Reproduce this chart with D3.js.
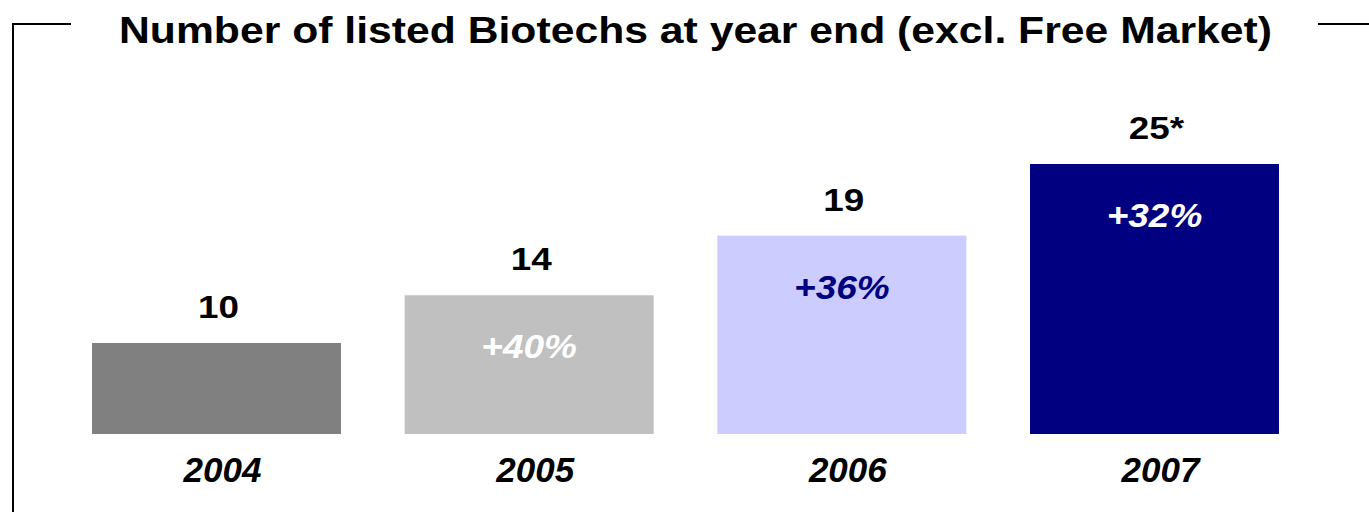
<!DOCTYPE html>
<html><head><meta charset="utf-8">
<script src="https://cdn.jsdelivr.net/npm/d3@7"></script>
<style>
html,body{margin:0;padding:0;background:#fff;}
svg{display:block;}
text{font-family:"Liberation Sans",Arial,sans-serif;font-weight:bold;}
</style></head>
<body>
<svg id="chart" width="1369" height="512"></svg>
<script>
const title = "Number of listed Biotechs at year end (excl. Free Market)";
const years = ["2004", "2005", "2006", "2007"];
const values = [10, 14, 19, 25];
const valueLabels = ["10", "14", "19", "25*"];
const growthLabels = [null, "+40%", "+36%", "+32%"];
const barColors = ["#808080", "#C0C0C0", "#CCCCFF", "#000080"];
const growthColors = [null, "#FFFFFF", "#000080", "#FFFFFF"];

const svg = d3.select("#chart");
const W = 1369, H = 512;
const baseline = 434;

const x = d3.scaleBand().domain(years).range([92, 1279]).paddingInner(0.2036).paddingOuter(0);
const y = d3.scaleLinear().domain([2.37, 25]).range([baseline, 164]);

// frame
const frame = svg.append("g").attr("stroke", "#000").attr("stroke-width", 2).attr("fill", "none");
frame.append("path").attr("d", `M13,${H+2} L13,24 L71,24`);
frame.append("path").attr("d", `M1318,24 L${W+2},24`);

// title (horizontally stretched as in the original)
svg.append("text").attr("x", 119).attr("y", 43).attr("text-anchor", "start")
  .attr("font-size", 36).attr("fill", "#000")
  .attr("textLength", 1153).attr("lengthAdjust", "spacingAndGlyphs")
  .text(title);

const data = years.map((yr, i) => ({yr, v: values[i], lab: valueLabels[i], g: growthLabels[i], c: barColors[i], gc: growthColors[i]}));

svg.selectAll("rect.bar").data(data).join("rect").attr("class", "bar")
  .attr("x", d => x(d.yr)).attr("width", x.bandwidth())
  .attr("y", d => y(d.v)).attr("height", d => baseline - y(d.v))
  .attr("fill", d => d.c);

const stretch = 1.15;
svg.selectAll("text.val").data(data).join("text").attr("class", "val")
  .attr("x", d => x(d.yr) + x.bandwidth()/2 + 2).attr("y", d => y(d.v) - 25)
  .attr("text-anchor", "middle").attr("font-size", 32).attr("fill", "#000")
  .text(d => d.lab)
  .each(function() {
    const len = this.getComputedTextLength();
    d3.select(this).attr("textLength", len * stretch).attr("lengthAdjust", "spacingAndGlyphs");
  });

svg.selectAll("text.growth").data(data.filter(d => d.g)).join("text").attr("class", "growth")
  .attr("x", d => x(d.yr) + x.bandwidth()/2).attr("y", d => y(d.v) + 63)
  .attr("text-anchor", "middle").attr("font-size", 33).attr("font-style", "italic")
  .attr("fill", d => d.gc).text(d => d.g)
  .each(function() {
    const len = this.getComputedTextLength();
    d3.select(this).attr("textLength", len * 1.12).attr("lengthAdjust", "spacingAndGlyphs");
  });

// x axis labels
const xAxis = d3.axisBottom(x).tickSize(0).tickPadding(0);
const gx = svg.append("g").attr("transform", `translate(0,${baseline})`).call(xAxis);
gx.select(".domain").remove();
gx.selectAll("text").attr("font-size", 35).attr("font-style", "italic")
  .attr("font-family", "Liberation Sans, Arial, sans-serif").attr("font-weight", "bold")
  .attr("fill", "#000").attr("dy", null).attr("y", 48).attr("x", 6);
</script>
</body></html>
